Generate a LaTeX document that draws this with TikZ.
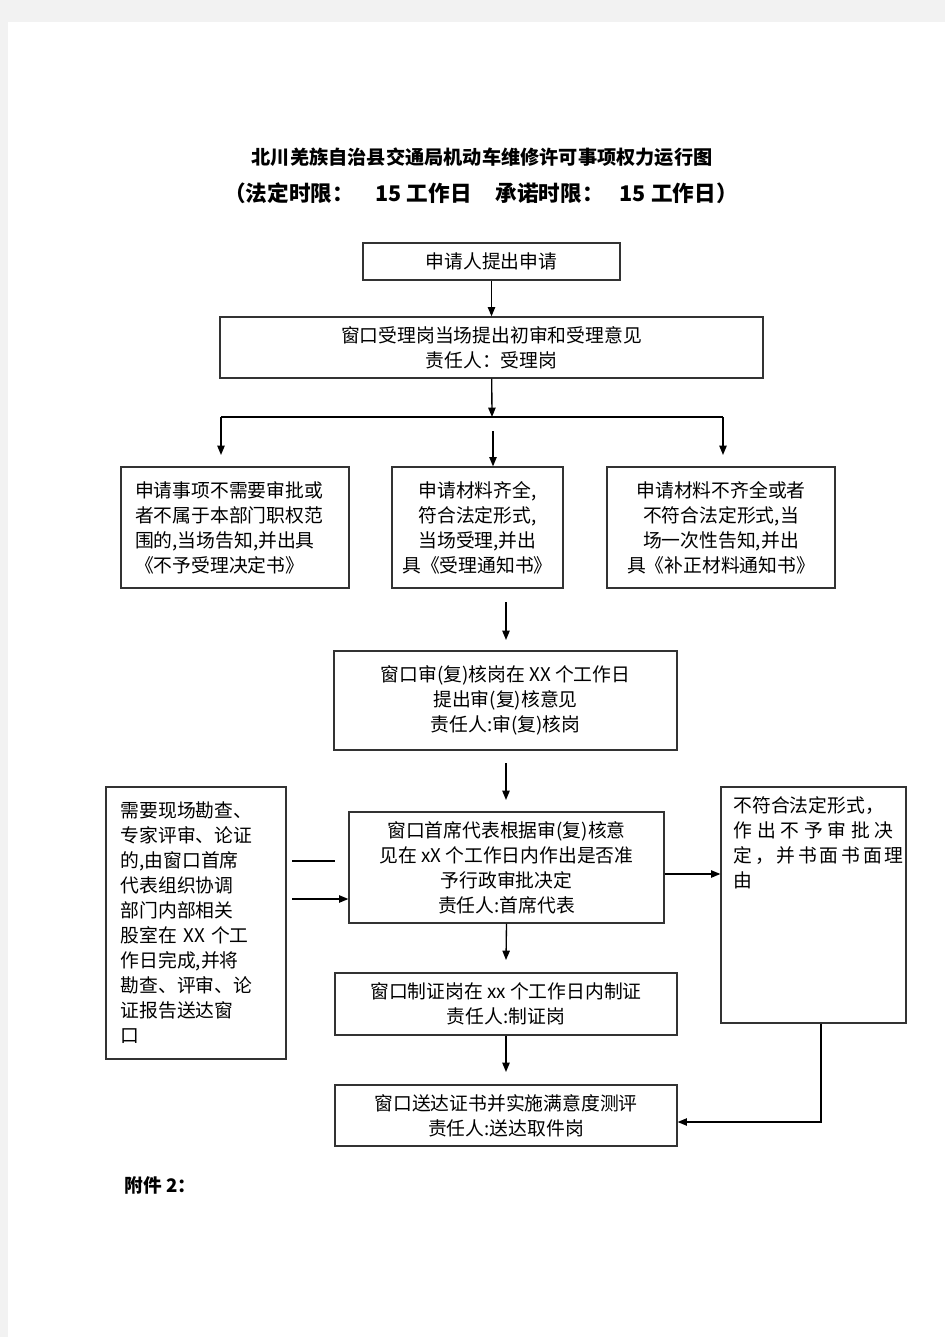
\documentclass[tikz,border=0pt]{standalone}
\usepackage{fontspec}
\setmainfont{Noto Sans CJK SC}
\usetikzlibrary{arrows.meta}

\begin{document}
\begin{tikzpicture}[x=0.75pt, y=-0.75pt]
	\tikzstyle{box}   = [draw=black!80, line width=0.9pt, rectangle, inner sep=0pt, font=\fontsize{14.1}{18.75}\selectfont]
	\tikzstyle{arrow} = [-{Triangle[width=5.5pt,length=7pt]}, line width=1pt, black]
	\tikzstyle{line}  = [line width=1pt, black]

	% page
	\fill[black!5] (0,0) rectangle (945,1337);
	\fill[white] (8,22) rectangle (945,1337);
	\useasboundingbox (0,0) rectangle (945,1337);

	% titles
	\node[font=\fontsize{14.4}{17}\selectfont\bfseries] (title) at (482,157) {北川羌族自治县交通局机动车维修许可事项权力运行图};
	\node[font=\fontsize{16.2}{19}\selectfont\bfseries] (limits) at (481,193)
		{（法定时限：\hspace{16pt}15\hspace{4pt}工作日\hspace{18pt}承诺时限：\hspace{12pt}15\hspace{4pt}工作日）};

	% boxes
	\node[box, minimum width=192.75pt, minimum height=27.75pt] (apply) at (491.5,261.5) {申请人提出申请};
	\node[box, minimum width=407.25pt, minimum height=45.75pt, align=center] (accept) at (491.5,347.5)
		{窗口受理岗当场提出初审和受理意见\\责任人：受理岗};

	\node[box, minimum width=171pt, minimum height=90.75pt, text width=150pt, align=left] (reject) at (235,527.5)
		{申请事项不需要审批或\\者不属于本部门职权范\\围的,当场告知,并出具\\《不予受理决定书》};
	\node[box, minimum width=128.25pt, minimum height=90.75pt, align=center] (ok) at (477.5,527.5)
		{申请材料齐全,\\符合法定形式,\\当场受理,并出\\具《受理通知书》};
	\node[box, minimum width=171pt, minimum height=90.75pt, align=center] (fix) at (721,527.5)
		{申请材料不齐全或者\\不符合法定形式,当\\场一次性告知,并出\\具《补正材料通知书》};

	\node[box, minimum width=257.25pt, minimum height=74.25pt, align=center] (review) at (505.5,700.5)
		{窗口审(复)核岗在 XX 个工作日\\提出审(复)核意见\\责任人:审(复)核岗};
	\node[box, minimum width=236.25pt, minimum height=83.25pt, align=center] (decide) at (506.5,867.5)
		{窗口首席代表根据审(复)核意\\见在 xX 个工作日内作出是否准\\予行政审批决定\\责任人:首席代表};
	\node[box, minimum width=135pt, minimum height=204pt, text width=113pt, align=left] (expert) at (196,923)
		{需要现场勘查、\\专家评审、论证\\的,由窗口首席\\代表组织协调\\部门内部相关\\股室在 XX 个工\\作日完成,并将\\勘查、评审、论\\证报告送达窗\\口};
	\node[box, minimum width=138.75pt, minimum height=177pt] (deny) at (813.5,905)
		{\parbox[c][163pt][t]{120pt}{不符合法定形式，\\
		\makebox[\linewidth][s]{作 出 不 予 审 批 决}\\
		\makebox[\linewidth][s]{定 ， 并 书 面 书 面 理}\\
		由}};
	\node[box, minimum width=256.5pt, minimum height=46.5pt, align=center] (cert) at (506,1004)
		{窗口制证岗在 xx 个工作日内制证\\责任人:制证岗};
	\node[box, minimum width=256.5pt, minimum height=45.75pt, align=center] (deliver) at (506,1115.5)
		{窗口送达证书并实施满意度测评\\责任人:送达取件岗};

	\node[font=\fontsize{14}{17}\selectfont\bfseries, anchor=west] (annex) at (120,1185) {附件 2：};

	% free ends of connectors
	\coordinate (split) at (492,417);
	\coordinate (splitL) at (221,417);
	\coordinate (splitR) at (723,417);
	\foreach \name/\x/\y in {tipL/221/455, tipR/723/455, okTop/493/431,
		midA/506/602, midB/506/640, midC/506/763, midD/506/800,
		midE/506/960, midF/506/1072, stubA/292/861, stubB/335/861,
		feedIn/292/899, turn/821/1122}
		\coordinate (\name) at (\x,\y);

	% connectors
	\draw[arrow] (apply) -- (accept);
	\draw[arrow] (accept) -- (split);
	\draw[line] (splitL) -- (splitR);
	\foreach \from/\to in {splitL/tipL, splitR/tipR, midA/midB, midC/midD,
		decide.south/midE, cert.south/midF}
		\draw[arrow] (\from) -- (\to);
	\draw[arrow] (okTop) -- (okTop |- ok.north);
	\draw[line] (stubA) -- (stubB);
	\draw[arrow] (feedIn) -- (feedIn -| decide.west);
	\draw[arrow] (decide.east |- 0,874) -- (deny.west |- 0,874);
	\draw[arrow] (deny.south -| turn) -- (turn) -- (turn -| deliver.east);
\end{tikzpicture}
\end{document}
